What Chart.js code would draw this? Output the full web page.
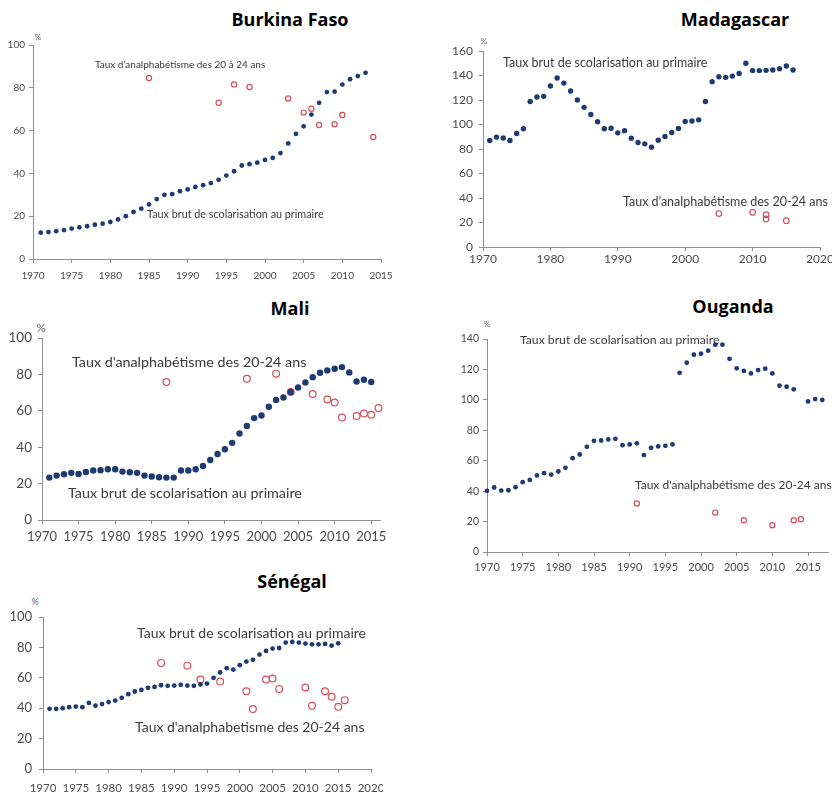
<!DOCTYPE html>
<html>
<head>
<meta charset="utf-8">
<script src="https://cdn.jsdelivr.net/npm/chart.js@4.4.1/dist/chart.umd.min.js"></script>
<style>
  body { margin: 0; width: 837px; height: 795px; position: relative; background: #fff; overflow: hidden; font-family: Lato, sans-serif; }
  canvas { position: absolute; }
  .title { position: absolute; font-family: "Open Sans", sans-serif; font-weight: 700; font-size: 18px; color: #000; transform: translate(-50%, -50%); white-space: nowrap; }
  .note { position: absolute; color: #3a3a3a; transform: translateY(-50%); white-space: nowrap; }
  .pct { position: absolute; color: #666; transform: translate(-50%, -50%); }
</style>
</head>
<body>
<div class="title" style="left:290px; top:19px">Burkina Faso</div>
<div class="title" style="left:735px; top:19px">Madagascar</div>
<div class="title" style="left:290px; top:308px">Mali</div>
<div class="title" style="left:733px; top:306px">Ouganda</div>
<div class="title" style="left:292px; top:581px">Sénégal</div>

<canvas id="bf" width="393" height="256" style="left:0px; top:35px"></canvas>
<canvas id="mg" width="409" height="232" style="left:423px; top:41px"></canvas>
<canvas id="ml" width="392" height="222" style="left:0px; top:328px"></canvas>
<canvas id="ug" width="409" height="249" style="left:427px; top:329px"></canvas>
<canvas id="sn" width="383" height="188" style="left:0px; top:607px"></canvas>

<div class="pct" style="left:38px; top:37px; font-size:8px">%</div>
<div class="pct" style="left:484px; top:41px; font-size:8px">%</div>
<div class="pct" style="left:41px; top:327px; font-size:12px">%</div>
<div class="pct" style="left:487px; top:324px; font-size:8px">%</div>
<div class="pct" style="left:35px; top:601px; font-size:9px">%</div>

<div class="note" style="left:95px; top:64px; font-size:10px">Taux d’analphabétisme des 20 à 24 ans</div>
<div class="note" style="left:147px; top:213px; font-size:10.8px">Taux brut de scolarisation au primaire</div>
<div class="note" style="left:503px; top:62px; font-size:12.5px">Taux brut de scolarisation au primaire</div>
<div class="note" style="left:623px; top:201px; font-size:12.5px">Taux d’analphabétisme des 20-24 ans</div>
<div class="note" style="left:72px; top:361px; font-size:14.3px">Taux d'analphabétisme des 20-24 ans</div>
<div class="note" style="left:68px; top:492px; font-size:14.3px">Taux brut de scolarisation au primaire</div>
<div class="note" style="left:520px; top:339px; font-size:12.2px">Taux brut de scolarisation au primaire</div>
<div class="note" style="left:635px; top:484px; font-size:12px">Taux d'analphabétisme des 20-24 ans</div>
<div class="note" style="left:137px; top:632px; font-size:14px">Taux brut de scolarisation au primaire</div>
<div class="note" style="left:135px; top:726px; font-size:14px">Taux d'analphabetisme des 20-24 ans</div>

<script>
// Burkina Faso
const bfEnrolYears = [1971,1972,1973,1974,1975,1976,1977,1978,1979,1980,1981,1982,1983,1984,1985,1986,1987,1988,1989,1990,1991,1992,1993,1994,1995,1996,1997,1998,1999,2000,2001,2002,2003,2004,2005,2006,2007,2008,2009,2010,2011,2012,2013];
const bfEnrol = [12.3,12.6,13,13.5,14.2,14.8,15.3,16,16.5,17.3,18.5,20,22,23.5,25.5,28,30,30.3,31.7,32.5,33.7,34.5,35.5,37,39,41,43.7,44.3,45,46.3,47.3,49.5,54,58.5,62,67.5,73,78,78.2,81.5,84,85.5,87];
const bfIllitYears = [1985,1994,1996,1998,2003,2005,2006,2007,2009,2010,2014];
const bfIllit = [84.6,73,81.6,80.4,75,68.4,70.2,62.6,63,67.3,57];

// Madagascar
const mgEnrolYears = [1971,1972,1973,1974,1975,1976,1977,1978,1979,1980,1981,1982,1983,1984,1985,1986,1987,1988,1989,1990,1991,1992,1993,1994,1995,1996,1997,1998,1999,2000,2001,2002,2003,2004,2005,2006,2007,2008,2009,2010,2011,2012,2013,2014,2015,2016];
const mgEnrol = [87,89.7,89,87,92.7,96.5,118.8,122.4,123,131.4,138,133.8,127.3,120,114,108.2,102.2,96.5,97,93.2,95,88.8,85.3,84.2,81.5,87.2,90.2,93.5,96.8,102.5,102.8,103.8,118.8,135,139,138.5,139.5,141.7,150,144,144,144.2,144.5,145.5,147.7,144.5];
const mgIllitYears = [2005,2010,2012,2012,2015];
const mgIllit = [27.3,28.3,26.4,22.9,21.5];

// Mali
const mlEnrolYears = [1971,1972,1973,1974,1975,1976,1977,1978,1979,1980,1981,1982,1983,1984,1985,1986,1987,1988,1989,1990,1991,1992,1993,1994,1995,1996,1997,1998,1999,2000,2001,2002,2003,2004,2005,2006,2007,2008,2009,2010,2011,2012,2013,2014,2015];
const mlEnrol = [23.3,24.4,25.1,25.9,25.3,26.4,27.2,27.3,27.9,27.9,26.6,26.2,25.9,24.4,23.9,23.5,23.3,23.3,27.2,27.2,27.9,29.7,33,36.3,38.9,42.4,47.5,51.7,56,57.4,62.2,66,67.3,70.3,72.8,75.6,78.5,80.9,82.2,83.1,84,81.1,76.1,77.1,75.8];
const mlIllitYears = [1987,1998,2002,2004,2007,2009,2010,2011,2013,2014,2015,2016];
const mlIllit = [75.8,77.6,80.4,70.3,69.2,66.2,64.6,56.3,57.1,58.5,57.8,61.5];

// Ouganda
const ugEnrolYears = [1970,1971,1972,1973,1974,1975,1976,1977,1978,1979,1980,1981,1982,1983,1984,1985,1986,1987,1988,1989,1990,1991,1992,1993,1994,1995,1996,1997,1998,1999,2000,2001,2002,2003,2004,2005,2006,2007,2008,2009,2010,2011,2012,2013,2015,2016,2017];
const ugEnrol = [40.2,42.4,40.4,40.6,42.6,45.9,47.4,50.3,51.8,50.9,52.9,55.3,61.7,64.1,69.1,73.1,73.3,74,74.4,70.2,70.7,71.4,63.7,68.5,69.4,69.8,70.7,117.8,124.4,129.7,130.3,132.3,136.3,136.3,127,120.7,119,117.4,119.6,120.5,117.4,109.3,108.6,106.9,99,100.5,99.9];
const ugIllitYears = [1991,2002,2006,2010,2013,2014];
const ugIllit = [31.9,25.9,20.9,17.6,20.9,21.5];

// Sénégal
const snEnrolYears = [1971,1972,1973,1974,1975,1976,1977,1978,1979,1980,1981,1982,1983,1984,1985,1986,1987,1988,1989,1990,1991,1992,1993,1994,1995,1996,1997,1998,1999,2000,2001,2002,2003,2004,2005,2006,2007,2008,2009,2010,2011,2012,2013,2014,2015];
const snEnrol = [39.6,39.6,40,40.7,41.1,40.7,43.5,41.6,42.7,44,45,46.8,49.2,51,52,53.4,54,55.1,54.7,54.9,55.4,54.9,54.7,55.6,56.2,60,63.5,66.3,65.4,68.3,70.7,71.8,75.3,77.7,79.2,79.6,83.2,83.6,83.2,82.5,82,82,82.3,81.2,82.7];
const snIllitYears = [1988,1992,1994,1997,2001,2002,2004,2005,2006,2010,2011,2013,2014,2015,2016];
const snIllit = [69.8,68,58.9,57.5,51.2,39.4,58.9,59.5,52.7,53.6,41.6,51.2,47.5,40.9,45.3];

// tick labels
const xTicks5to2015 = [1970,1975,1980,1985,1990,1995,2000,2005,2010,2015];
const xTicks5to2020 = [1970,1975,1980,1985,1990,1995,2000,2005,2010,2015,2020];
const xTicks10 = [1970,1980,1990,2000,2010,2020];
const yTicks100 = [0,20,40,60,80,100];
const yTicks140 = [0,20,40,60,80,100,120,140];
const yTicks160 = [0,20,40,60,80,100,120,140,160];

const BLUE = "#1d3a72";
const RED = "#d24f5a";
const AXIS = "#8f8f8f";
const TICKTXT = "#4a4a4a";

function pairs(xs, ys) {
  return xs.map(function (x, i) { return { x: x, y: ys[i] }; });
}

function makePanel(id, p) {
  new Chart(document.getElementById(id), {
    type: "scatter",
    data: {
      datasets: [
        {
          data: pairs(p.enrolX, p.enrol),
          pointStyle: "circle",
          pointRadius: p.blueR,
          backgroundColor: BLUE,
          borderColor: BLUE,
          borderWidth: 0,
          clip: false,
        },
        {
          data: pairs(p.illitX, p.illit),
          pointStyle: "circle",
          pointRadius: p.redR,
          backgroundColor: "rgba(255,255,255,0)",
          borderColor: RED,
          borderWidth: 1.2,
          clip: false,
        },
      ],
    },
    options: {
      responsive: false,
      animation: false,
      devicePixelRatio: 1,
      layout: { autoPadding: false, padding: { top: 10, right: p.padRight, left: 0, bottom: 0 } },
      plugins: { legend: { display: false }, tooltip: { enabled: false } },
      scales: {
        x: {
          type: "linear",
          min: p.xMin,
          max: p.xMax,
          afterBuildTicks: function (scale) {
            scale.ticks = p.xTicks.map(function (v) { return { value: v }; });
          },
          afterFit: function (scale) {
            scale.height = p.xh;
            scale.paddingLeft = 0;
            scale.paddingRight = 0;
          },
          ticks: {
            autoSkip: false,
            maxRotation: 0,
            padding: p.xPad,
            color: TICKTXT,
            font: { family: "Lato", size: p.xFont },
            callback: function (v) { return String(v); },
          },
          grid: { display: true, drawOnChartArea: false, drawTicks: true, tickLength: 4, color: AXIS },
          border: { display: true, color: AXIS, width: 1 },
        },
        y: {
          type: "linear",
          min: 0,
          max: p.yMax,
          afterBuildTicks: function (scale) {
            scale.ticks = p.yTicks.map(function (v) { return { value: v }; });
          },
          afterFit: function (scale) {
            scale.width = p.yw;
            scale.paddingTop = 0;
            scale.paddingBottom = 0;
          },
          ticks: {
            padding: p.yPad,
            color: TICKTXT,
            font: { family: "Lato", size: p.yFont },
          },
          grid: { display: true, drawOnChartArea: false, drawTicks: true, tickLength: 4, color: AXIS },
          border: { display: true, color: AXIS, width: 1 },
        },
      },
    },
  });
}

makePanel("bf", {
  enrolX: bfEnrolYears, enrol: bfEnrol, illitX: bfIllitYears, illit: bfIllit,
  xMin: 1970, xMax: 2015, xTicks: xTicks5to2015, yMax: 100, yTicks: yTicks100,
  yw: 33, xh: 32, padRight: 12, xPad: 7, yPad: 4, xFont: 10, yFont: 10, blueR: 2.4, redR: 2.6,
});
makePanel("mg", {
  enrolX: mgEnrolYears, enrol: mgEnrol, illitX: mgIllitYears, illit: mgIllit,
  xMin: 1970, xMax: 2020, xTicks: xTicks10, yMax: 160, yTicks: yTicks160,
  yw: 60, xh: 26, padRight: 12, xPad: 1, yPad: 6, xFont: 12, yFont: 12, blueR: 2.7, redR: 2.8,
});
makePanel("ml", {
  enrolX: mlEnrolYears, enrol: mlEnrol, illitX: mlIllitYears, illit: mlIllit,
  xMin: 1970, xMax: 2016.2, xTicks: xTicks5to2015, yMax: 100, yTicks: yTicks100,
  yw: 42, xh: 30, padRight: 12, xPad: 5, yPad: 6, xFont: 13, yFont: 13.5, blueR: 3.2, redR: 3.4,
});
makePanel("ug", {
  enrolX: ugEnrolYears, enrol: ugEnrol, illitX: ugIllitYears, illit: ugIllit,
  xMin: 1970, xMax: 2017.8, xTicks: xTicks5to2015, yMax: 140, yTicks: yTicks140,
  yw: 60, xh: 26, padRight: 8, xPad: 5, yPad: 4, xFont: 11, yFont: 10.5, blueR: 2.4, redR: 2.6,
});
makePanel("sn", {
  enrolX: snEnrolYears, enrol: snEnrol, illitX: snIllitYears, illit: snIllit,
  xMin: 1970, xMax: 2020, xTicks: xTicks5to2020, yMax: 100, yTicks: yTicks100,
  yw: 43, xh: 26, padRight: 12, xPad: 8, yPad: 7, xFont: 11.5, yFont: 13, blueR: 2.4, redR: 3.4,
});
</script>
</body>
</html>
